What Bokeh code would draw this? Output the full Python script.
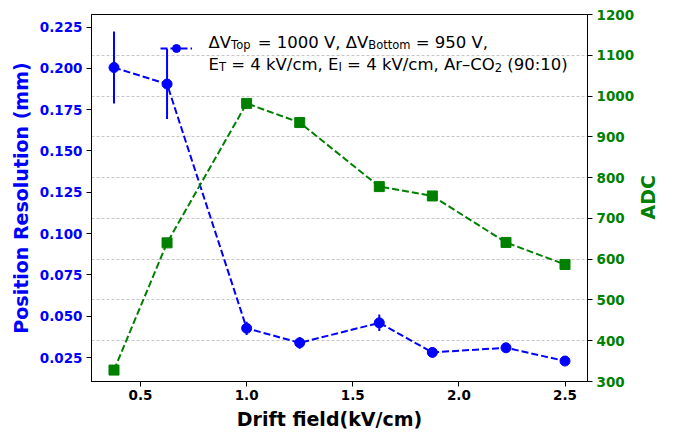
import math
from bokeh.plotting import figure
from bokeh.models import (Range1d, LinearAxis, FixedTicker, PrintfTickFormatter,
                          Grid, Legend, LegendItem, Label, Div, Row, Column)
from bokeh.embed import file_html
from bokeh.resources import INLINE

# ---- data ----
drift_field = [0.375, 0.625, 1.0, 1.25, 1.625, 1.875, 2.222, 2.5]
resolution = [0.2005, 0.1905, 0.0427, 0.0339, 0.0460, 0.0281, 0.0309, 0.0229]
resolution_err = [0.0218, 0.0212, 0.0040, 0.0036, 0.0050, 0.0015, 0.0020, 0.0012]
adc = [328, 640, 982, 935, 778, 755, 641, 587]

x_ticks = [0.5, 1.0, 1.5, 2.0, 2.5]
left_ticks = [0.025, 0.05, 0.075, 0.1, 0.125, 0.15, 0.175, 0.2, 0.225]
right_ticks = [300, 400, 500, 600, 700, 800, 900, 1000, 1100, 1200]

x_title = "Drift field(kV/cm)"
left_title = "Position Resolution (mm)"
right_title = "ADC"

BLUE = "#0000ff"
GREEN = "#008000"
FONT = "DejaVu Sans"
TICK_FS = "13.5px"
TITLE_FS = "19px"

X0, X1 = 0.269, 2.606
Y0, Y1 = 0.0105, 0.2326
A0, A1 = 300, 1200

P_W, P_H = 637, 408
p = figure(width=P_W, height=P_H,
           x_range=Range1d(X0, X1), y_range=Range1d(Y0, Y1),
           output_backend="svg", toolbar_location=None,
           min_border_left=91, min_border_top=14, min_border_right=48, min_border_bottom=27)
p.extra_y_ranges = {"adc": Range1d(A0, A1)}
p.xgrid.visible = False
p.ygrid.visible = False
p.outline_line_color = "black"
p.outline_line_width = 1
p.background_fill_color = "white"

grid = Grid(dimension=1, ticker=FixedTicker(ticks=right_ticks), y_range_name="adc",
            grid_line_color="#b8b8b8", grid_line_dash="3 2", grid_line_width=0.8)
p.add_layout(grid)

def style_axis(ax, color, ticks, fmt):
    ax.ticker = FixedTicker(ticks=ticks)
    ax.formatter = PrintfTickFormatter(format=fmt)
    ax.major_label_text_font = FONT
    ax.major_label_text_font_style = "bold"
    ax.major_label_text_font_size = TICK_FS
    ax.major_label_text_color = color
    ax.major_label_standoff = 4
    ax.axis_line_color = "black"
    ax.axis_line_width = 1
    ax.major_tick_line_color = "black"
    ax.major_tick_line_width = 1
    ax.major_tick_out = 5
    ax.major_tick_in = 0
    ax.minor_tick_line_color = None

style_axis(p.xaxis[0], "black", x_ticks, "%.1f")
p.xaxis[0].major_label_standoff = 3
style_axis(p.yaxis[0], BLUE, left_ticks, "%.3f")
p.yaxis[0].axis_label = left_title
p.yaxis[0].axis_label_text_font = FONT
p.yaxis[0].axis_label_text_font_style = "bold"
p.yaxis[0].axis_label_text_font_size = TITLE_FS
p.yaxis[0].axis_label_text_color = BLUE
p.yaxis[0].axis_label_standoff = 5
right_axis = LinearAxis(y_range_name="adc")
style_axis(right_axis, GREEN, right_ticks, "%d")
p.add_layout(right_axis, "right")

# ---- blue series (position resolution) ----
lo = [r - e for r, e in zip(resolution, resolution_err)]
hi = [r + e for r, e in zip(resolution, resolution_err)]
p.segment(x0=drift_field, y0=lo, x1=drift_field, y1=hi, line_color=BLUE, line_width=2)
blue_line = p.line(drift_field, resolution, line_color=BLUE, line_width=2, line_dash="7 3")
blue_pts = p.scatter(drift_field, resolution, marker="circle", size=10,
                     fill_color=BLUE, line_color=BLUE)

# ---- green series (ADC) ----
p.line(drift_field, adc, line_color=GREEN, line_width=2, line_dash="7 3", y_range_name="adc")
p.scatter(drift_field, adc, marker="square", size=10, fill_color=GREEN,
          line_color=GREEN, y_range_name="adc")

# ---- legend handle ----
leg = Legend(items=[LegendItem(label=" ", renderers=[blue_line, blue_pts])],
             location=(69, 323), glyph_width=32, glyph_height=20, label_height=20,
             label_width=0, label_standoff=0, padding=0, margin=0, spacing=0,
             border_line_alpha=0, background_fill_alpha=0, label_text_font_size="2px")
p.add_layout(leg)

# ---- legend text with subscripts ----
W = {"Δ": .684, "V": .684, "T": .611, "o": .612, "p": .635, " ": .318, "=": .838,
     "0": .636, "1": .636, "2": .636, "4": .636, "5": .636, "9": .636, ",": .318,
     "B": .686, "t": .392, "m": .974, "E": .632, "k": .579, "/": .337, "c": .550,
     "I": .295, "A": .684, "r": .411, "–": .5, "C": .698, "O": .787, "(": .390,
     ")": .390, ":": .337}
MAIN, SUB = 16.5, 11.5

line1 = [("ΔV", False), ("Top", True), (" = 1000 V, ΔV", False), ("Bottom", True),
         (" = 950 V,", False)]
line2 = [("E", False), ("T", True), (" = 4 kV/cm, E", False), ("I", True),
         (" = 4 kV/cm, Ar–CO", False), ("2", True), (" (90:10)", False)]

for dy, pieces in [(-28, line1), (-50, line2)]:
    off = 117.0
    for txt, sub in pieces:
        size = SUB if sub else MAIN
        lead = len(txt) - len(txt.lstrip(" "))
        start = off + lead * W[" "] * size
        p.add_layout(Label(x=X0, y=Y1, x_offset=start,
                           y_offset=dy - (2.5 if sub else 0), text=txt.strip(" "),
                           text_font=FONT, text_font_size=f"{size}px",
                           text_color="black", text_baseline="alphabetic"))
        off += sum(W[c] for c in txt) * size

# ---- axis titles outside the figure (right: reads bottom-to-top; bottom: x title) ----
frame_mid_y = (14 + (P_H - 27)) / 2
adc_div = Div(width=659 - P_W, height=P_H, margin=0,
              text=(f'<div style="height:{2 * frame_mid_y:.0f}px;display:flex;'
                    f'align-items:center;justify-content:center;">'
                    f'<span style="writing-mode:vertical-rl;transform:rotate(180deg);'
                    f'font-family:\'{FONT}\';font-weight:bold;font-size:{TITLE_FS};'
                    f'color:{GREEN};line-height:22px;">{right_title}</span></div>'))
frame_mid_x = (91 + (P_W - 48)) / 2
pad = 2 * frame_mid_x - 659
x_div = Div(width=659, height=430 - P_H, margin=0,
            text=(f'<div style="width:{659 - pad:.0f}px;padding-left:{pad:.0f}px;'
                  f'text-align:center;font-family:\'{FONT}\';font-weight:bold;'
                  f'font-size:{TITLE_FS};color:black;line-height:22px;'
                  f'white-space:nowrap;">{x_title}</div>'))

layout = Column(children=[Row(children=[p, adc_div], spacing=0), x_div], spacing=0)

open("out.html", "w").write(file_html(layout, INLINE))
